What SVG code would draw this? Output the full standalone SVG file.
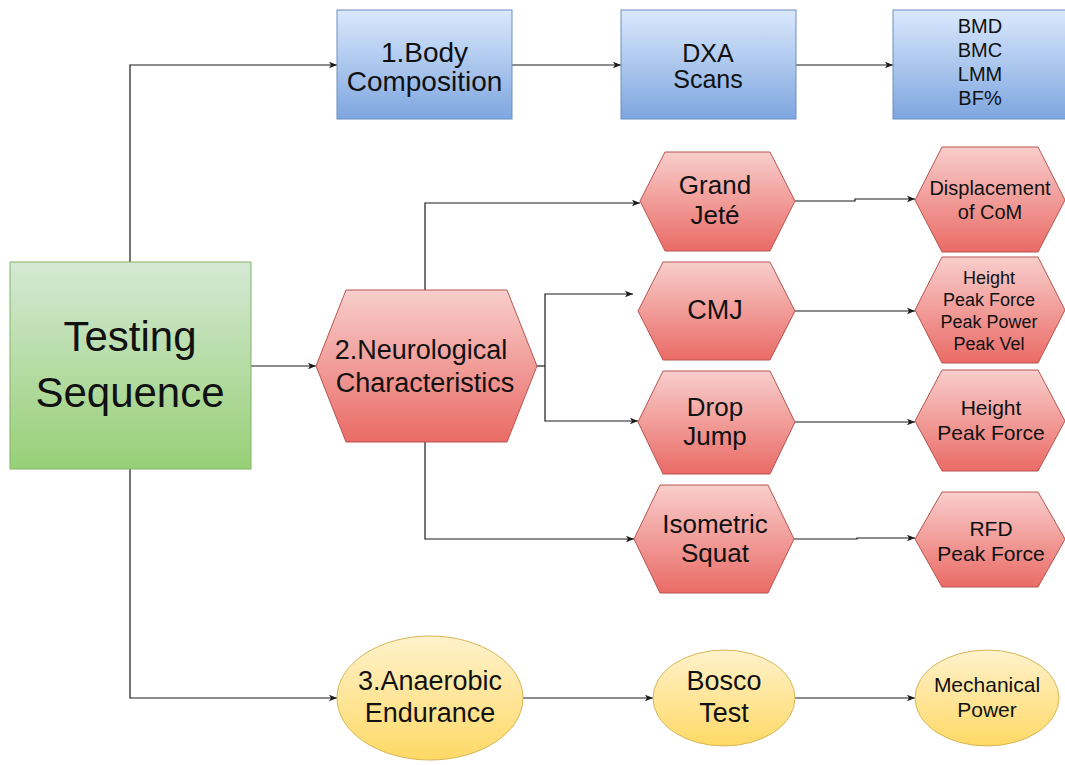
<svg xmlns="http://www.w3.org/2000/svg" width="1065" height="765" viewBox="0 0 1065 765">
<style>
text{font-family:"Liberation Sans",Arial,Helvetica,sans-serif;fill:#111;text-anchor:middle}
.blue{fill:url(#gBlue);stroke:#6c8ebf;stroke-width:1}
.green{fill:url(#gGreen);stroke:#82b366;stroke-width:1}
.red{fill:url(#gRed);stroke:#b85450;stroke-width:1}
.yel{fill:url(#gYel);stroke:#d6b656;stroke-width:1}
.edge{fill:none;stroke:#1a1a1a;stroke-width:1.2;marker-end:url(#arr)}
.plain{fill:none;stroke:#1a1a1a;stroke-width:1.2}
</style>
<defs>
<linearGradient id="gBlue" x1="0" y1="0" x2="0" y2="1"><stop offset="0" stop-color="#dae8fc"/><stop offset="1" stop-color="#7ea6e0"/></linearGradient>
<linearGradient id="gGreen" x1="0" y1="0" x2="0" y2="1"><stop offset="0" stop-color="#d5e8d4"/><stop offset="1" stop-color="#97d077"/></linearGradient>
<linearGradient id="gRed" x1="0" y1="0" x2="0" y2="1"><stop offset="0" stop-color="#f8cecc"/><stop offset="1" stop-color="#ea6b66"/></linearGradient>
<linearGradient id="gYel" x1="0" y1="0" x2="0" y2="1"><stop offset="0" stop-color="#fff2cc"/><stop offset="1" stop-color="#ffd966"/></linearGradient>
<marker id="arr" viewBox="0 0 10 10" refX="10" refY="5" markerWidth="8" markerHeight="8" markerUnits="userSpaceOnUse" orient="auto"><path d="M0,1 L10,5 L0,9 L2.5,5 Z" fill="#1a1a1a"/></marker>
</defs>
<rect width="1065" height="765" fill="#fff"/>
<g id="connectors">
<path class="edge" d="M130,262 V65 H337"/>
<path class="edge" d="M251,366 H316"/>
<path class="edge" d="M130,469 V698 H337"/>
<path class="edge" d="M512,65 H621"/>
<path class="edge" d="M796,65 H893"/>
<path class="edge" d="M425,290 V203 H640"/>
<path class="plain" d="M537,366 H545"/>
<path class="edge" d="M545,366 V294 H633"/>
<path class="edge" d="M545,366 V421 H638"/>
<path class="edge" d="M425,442 V539 H634"/>
<path class="edge" d="M795,201 H855 V199 H915"/>
<path class="edge" d="M795,311 H915"/>
<path class="edge" d="M795,422 H915"/>
<path class="edge" d="M794,539 H857 V538 H915"/>
<path class="edge" d="M523,698 H653"/>
<path class="edge" d="M795,698 H915"/>
</g>
<g id="testing"><rect class="green" x="10" y="262" width="241" height="207"/><text font-size="42"><tspan x="130" y="351">Testing</tspan><tspan x="130" y="407">Sequence</tspan></text></g>
<g id="body"><rect class="blue" x="337" y="10" width="175" height="109"/><text font-size="28"><tspan x="424.5" y="62">1.Body</tspan><tspan x="424.5" y="91">Composition</tspan></text></g>
<g id="dxa"><rect class="blue" x="621" y="10" width="175" height="109"/><text font-size="25"><tspan x="708" y="62">DXA</tspan><tspan x="708" y="88">Scans</tspan></text></g>
<g id="bmd"><rect class="blue" x="893" y="10" width="175" height="109"/><text font-size="20"><tspan x="980" y="33">BMD</tspan><tspan x="980" y="57">BMC</tspan><tspan x="980" y="81">LMM</tspan><tspan x="980" y="105">BF%</tspan></text></g>
<g id="neuro"><polygon class="red" points="316,366 346,290 507,290 537,366 507,442 346,442"/><text font-size="27"><tspan x="421" y="359">2.Neurological</tspan><tspan x="425" y="392">Characteristics</tspan></text></g>
<g id="grandjete"><polygon class="red" points="640,201 665,152 770,152 795,201 770,251 665,251"/><text font-size="26"><tspan x="715" y="194">Grand</tspan><tspan x="715" y="224">Jeté</tspan></text></g>
<g id="cmj"><polygon class="red" points="638,311 663,262 770,262 795,311 770,360 663,360"/><text font-size="27" x="715" y="319">CMJ</text></g>
<g id="dropjump"><polygon class="red" points="638,422 663,371 770,371 795,422 770,474 663,474"/><text font-size="26"><tspan x="715" y="416">Drop</tspan><tspan x="715" y="445">Jump</tspan></text></g>
<g id="isometric"><polygon class="red" points="634,539 660,485 768,485 794,539 768,593 660,593"/><text font-size="26"><tspan x="715" y="533">Isometric</tspan><tspan x="715" y="562">Squat</tspan></text></g>
<g id="displacement"><polygon class="red" points="915,200 942,147 1038,147 1065,200 1038,252 942,252"/><text font-size="20"><tspan x="990" y="195">Displacement</tspan><tspan x="990" y="219">of CoM</tspan></text></g>
<g id="cmjout"><polygon class="red" points="915,310 942,257 1038,257 1065,310 1038,363 942,363"/><text font-size="18"><tspan x="989" y="284">Height</tspan><tspan x="989" y="306">Peak Force</tspan><tspan x="989" y="328">Peak Power</tspan><tspan x="989" y="350">Peak Vel</tspan></text></g>
<g id="djout"><polygon class="red" points="915,421 942,370 1038,370 1065,421 1038,471 942,471"/><text font-size="21"><tspan x="991" y="415">Height</tspan><tspan x="991" y="440">Peak Force</tspan></text></g>
<g id="rfd"><polygon class="red" points="915,539 942,492 1038,492 1065,539 1038,587 942,587"/><text font-size="21"><tspan x="991" y="536">RFD</tspan><tspan x="991" y="561">Peak Force</tspan></text></g>
<g id="anaerobic"><ellipse class="yel" cx="430" cy="698" rx="93" ry="62"/><text font-size="27"><tspan x="430" y="690">3.Anaerobic</tspan><tspan x="430" y="722">Endurance</tspan></text></g>
<g id="bosco"><ellipse class="yel" cx="724" cy="698" rx="71" ry="48"/><text font-size="27"><tspan x="724" y="690">Bosco</tspan><tspan x="724" y="722">Test</tspan></text></g>
<g id="mech"><ellipse class="yel" cx="987" cy="698" rx="72" ry="48"/><text font-size="21"><tspan x="987" y="692">Mechanical</tspan><tspan x="987" y="717">Power</tspan></text></g>
</svg>
